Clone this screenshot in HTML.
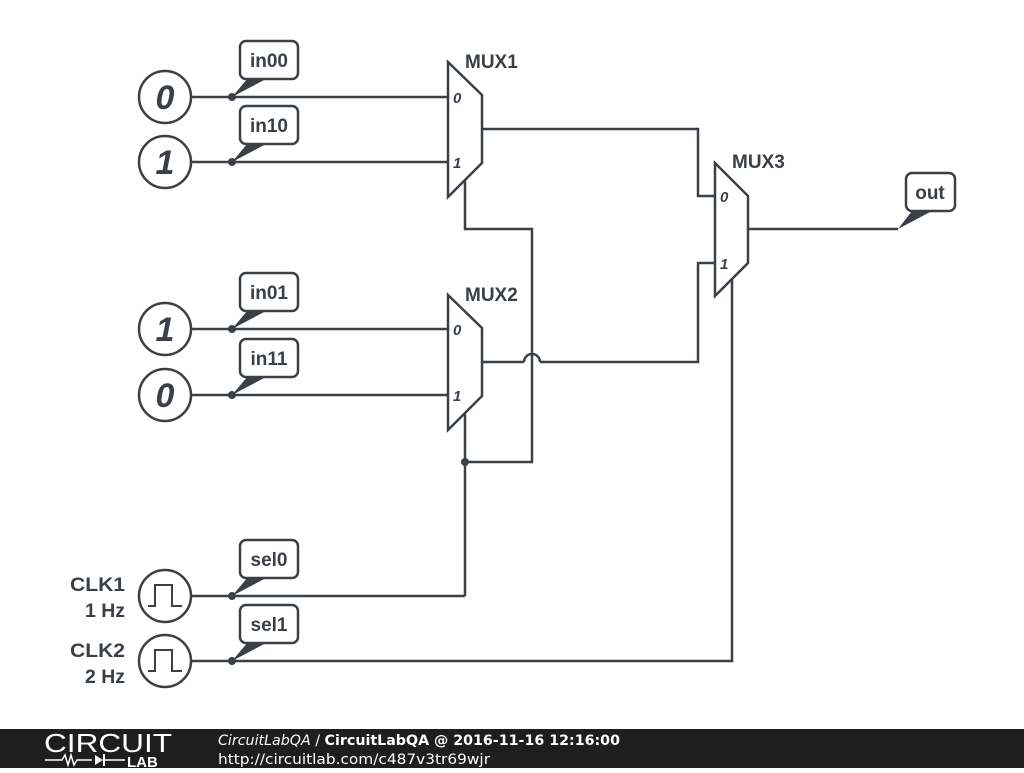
<!DOCTYPE html>
<html><head><style>
body{margin:0;width:1024px;height:768px;background:#fff;overflow:hidden;font-family:"Liberation Sans",sans-serif}
</style></head><body>
<svg width="1024" height="768" viewBox="0 0 1024 768" xmlns="http://www.w3.org/2000/svg">
<defs>
<g id="tag"><rect x="0" y="0" width="58" height="38" rx="6" fill="#fff" stroke="#3a4045" stroke-width="2.5"/></g>
</defs>
<g fill="none" stroke="#3a4045" stroke-width="2.5">
<line x1="191" y1="97" x2="448" y2="97"/>
<line x1="191" y1="162" x2="448" y2="162"/>
<line x1="191" y1="329" x2="448" y2="329"/>
<line x1="191" y1="395" x2="448" y2="395"/>
<line x1="191" y1="596" x2="465" y2="596"/>
<polyline points="191,661 732,661 732,280"/>
<line x1="465" y1="596" x2="465" y2="414"/>
<polyline points="465,180 465,229 532,229 532,462 465,462"/>
<polyline points="482,129 698,129 698,196 715,196"/>
<polyline points="482,362 524,362"/>
<path d="M524,362 A8,8 0 0 1 540,362"/>
<polyline points="540,362 698,362 698,263 715,263"/>
<line x1="748" y1="229" x2="898" y2="229"/>
<polygon points="448,62 482,95 482,163 448,197" fill="#fff"/>
<polygon points="448,295 482,328 482,396 448,430" fill="#fff"/>
<polygon points="715,163 748,196 748,263 715,296" fill="#fff"/>
<circle cx="165" cy="97" r="26" fill="#fff"/>
<circle cx="165" cy="162" r="26" fill="#fff"/>
<circle cx="165" cy="329" r="26" fill="#fff"/>
<circle cx="165" cy="395" r="26" fill="#fff"/>
<circle cx="165" cy="596" r="26" fill="#fff"/>
<circle cx="165" cy="661" r="26" fill="#fff"/>
<polyline stroke-width="2" points="148,606 155,606 155,585 172,585 172,606 182,606"/>
<polyline stroke-width="2" points="148,671 155,671 155,650 172,650 172,671 182,671"/>
</g>
<g fill="#3a4045">
<circle cx="232" cy="97" r="4"/><circle cx="232" cy="162" r="4"/>
<circle cx="232" cy="329" r="4"/><circle cx="232" cy="395" r="4"/>
<circle cx="232" cy="596" r="4"/><circle cx="232" cy="661" r="4"/>
<circle cx="465" cy="462" r="4"/>
<polygon points="232,97 248,78 268,78"/>
<polygon points="232,162 248,143 268,143"/>
<polygon points="232,329 248,310 268,310"/>
<polygon points="232,395 248,376 268,376"/>
<polygon points="232,596 248,577 268,577"/>
<polygon points="232,661 248,642 268,642"/>
<polygon points="898,229 912,211 932,211"/>
</g>
<use href="#tag" x="240" y="41"/>
<use href="#tag" x="240" y="106"/>
<use href="#tag" x="240" y="273"/>
<use href="#tag" x="240" y="339"/>
<use href="#tag" x="240" y="540"/>
<use href="#tag" x="240" y="605"/>
<rect x="906" y="173" width="49" height="38" rx="6" fill="#fff" stroke="#3a4045" stroke-width="2.5"/>
<g fill="#3a4045" font-family="Liberation Sans,sans-serif" font-weight="bold" font-size="19">
<text x="269" y="67" text-anchor="middle">in00</text>
<text x="269" y="132" text-anchor="middle">in10</text>
<text x="269" y="299" text-anchor="middle">in01</text>
<text x="269" y="365" text-anchor="middle">in11</text>
<text x="269" y="566" text-anchor="middle">sel0</text>
<text x="269" y="631" text-anchor="middle">sel1</text>
<text x="930" y="199" text-anchor="middle">out</text>
<text x="465" y="68">MUX1</text>
<text x="465" y="301">MUX2</text>
<text x="732" y="168">MUX3</text>
<text x="125" y="591" text-anchor="end" textLength="55" lengthAdjust="spacingAndGlyphs">CLK1</text>
<text x="125" y="617" text-anchor="end" textLength="40" lengthAdjust="spacingAndGlyphs">1 Hz</text>
<text x="125" y="657" text-anchor="end" textLength="55" lengthAdjust="spacingAndGlyphs">CLK2</text>
<text x="125" y="683" text-anchor="end" textLength="40" lengthAdjust="spacingAndGlyphs">2 Hz</text>
<g font-style="italic" font-size="34" text-anchor="middle">
<text x="165" y="109">0</text><text x="165" y="174">1</text>
<text x="165" y="341">1</text><text x="165" y="407">0</text>
</g>
<g font-style="italic" font-weight="bold" font-size="15">
<text x="453" y="103">0</text><text x="453" y="168">1</text>
<text x="453" y="335">0</text><text x="453" y="401">1</text>
<text x="720" y="202">0</text><text x="720" y="269">1</text>
</g>
</g>
<rect x="0" y="729" width="1024" height="39" fill="#1e1e1e"/>
<text x="108" y="752" fill="#fff" font-size="26" text-anchor="middle" font-family="Liberation Sans,sans-serif" textLength="128" lengthAdjust="spacingAndGlyphs">CIRCUIT</text>
<polyline points="45,760 62,760 65,755 68,765 71,755 74,765 77,760 92,760" fill="none" stroke="#fff" stroke-width="1.5"/>
<polygon points="95,755 95,765 103,760" fill="#fff"/><line x1="104" y1="754" x2="104" y2="766" stroke="#fff" stroke-width="2"/>
<line x1="104" y1="760" x2="125" y2="760" stroke="#fff" stroke-width="1.5"/>
<text x="127" y="767" fill="#fff" font-size="15" font-weight="bold" font-family="Liberation Sans,sans-serif">LAB</text>
<text x="218" y="745" fill="#fff" font-size="14" font-family="DejaVu Sans,sans-serif" textLength="402" lengthAdjust="spacingAndGlyphs"><tspan font-style="italic">CircuitLabQA</tspan> / <tspan font-weight="bold">CircuitLabQA @ 2016-11-16 12:16:00</tspan></text>
<text x="218" y="764" fill="#fff" font-size="14" font-family="DejaVu Sans,sans-serif" textLength="272" lengthAdjust="spacingAndGlyphs">http://circuitlab.com/c487v3tr69wjr</text>
</svg>
</body></html>
